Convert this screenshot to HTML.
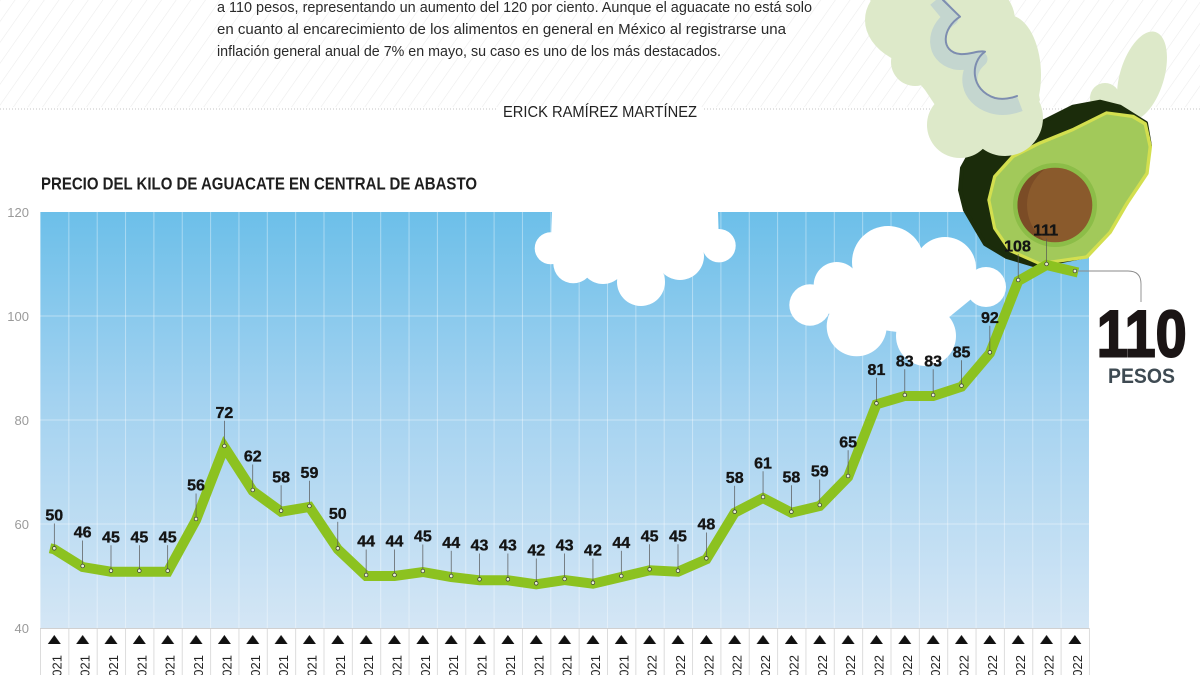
<!DOCTYPE html>
<html><head><meta charset="utf-8">
<style>
html,body{margin:0;padding:0;background:#fff;}
svg{display:block;}
text{font-family:"Liberation Sans",sans-serif;}
</style></head>
<body>
<svg width="1200" height="675" viewBox="0 0 1200 675" xmlns="http://www.w3.org/2000/svg">
<defs>
  <pattern id="hatch" patternUnits="userSpaceOnUse" width="12" height="12" patternTransform="rotate(35)">
    <line x1="0" y1="0" x2="0" y2="12" stroke="#ececec" stroke-width="1.2"/>
  </pattern>
  <linearGradient id="sky" x1="0" y1="0" x2="0" y2="1">
    <stop offset="0" stop-color="#6cbfe9"/>
    <stop offset="0.45" stop-color="#a3d2f0"/>
    <stop offset="1" stop-color="#d4e6f5"/>
  </linearGradient>
  <pattern id="vgrid" patternUnits="userSpaceOnUse" x="40" y="0" width="28.35" height="700">
    <line x1="0.5" y1="0" x2="0.5" y2="700" stroke="#ffffff" stroke-opacity="0.38" stroke-width="1"/>
  </pattern>
  <pattern id="bsep" patternUnits="userSpaceOnUse" x="40" y="0" width="28.35" height="700">
    <line x1="0.5" y1="0" x2="0.5" y2="700" stroke="#dcdcdc" stroke-width="1"/>
  </pattern>
  <pattern id="tri" patternUnits="userSpaceOnUse" x="40" y="0" width="28.35" height="700">
    <polygon points="7.8,644 14.3,635 20.8,644" fill="#111"/>
  </pattern>
  <clipPath id="wingclip">
    <ellipse cx="940" cy="20" rx="75" ry="50"/>
    <ellipse cx="1008" cy="75" rx="33" ry="60"/>
    <circle cx="915" cy="62" r="24"/>
    <circle cx="960" cy="125" r="33"/>
    <circle cx="1005" cy="118" r="38"/>
    <polygon points="870,0 1000,0 1030,50 1040,100 1020,140 975,150 945,120 925,90 900,60 895,30"/>
  </clipPath>
</defs>

<!-- top hatched band -->
<rect x="0" y="0" width="1200" height="107" fill="url(#hatch)"/>
<line x1="0" y1="109" x2="497" y2="109" stroke="#c4c4c4" stroke-width="1" stroke-dasharray="1 2"/>
<line x1="704" y1="109" x2="1200" y2="109" stroke="#c4c4c4" stroke-width="1" stroke-dasharray="1 2"/>

<!-- paragraph -->
<text x="217" y="12" font-size="15" fill="#2a2a2a" textLength="595" lengthAdjust="spacingAndGlyphs">a 110 pesos, representando un aumento del 120 por ciento. Aunque el aguacate no está solo</text>
<text x="217" y="34" font-size="15" fill="#2a2a2a" textLength="569" lengthAdjust="spacingAndGlyphs">en cuanto al encarecimiento de los alimentos en general en México al registrarse una</text>
<text x="217" y="56" font-size="15" fill="#2a2a2a" textLength="504" lengthAdjust="spacingAndGlyphs">inflación general anual de 7% en mayo, su caso es uno de los más destacados.</text>
<text x="503" y="117" font-size="16" fill="#222" textLength="194" lengthAdjust="spacingAndGlyphs">ERICK RAMÍREZ MARTÍNEZ</text>

<!-- title -->
<text x="41" y="189.5" font-size="17.5" font-weight="bold" fill="#1e1e1e" textLength="436" lengthAdjust="spacingAndGlyphs">PRECIO DEL KILO DE AGUACATE EN CENTRAL DE ABASTO</text>

<!-- y axis labels -->
<g font-size="13" fill="#9a9a9a" text-anchor="end">
  <text x="29" y="217">120</text>
  <text x="29" y="321">100</text>
  <text x="29" y="425">80</text>
  <text x="29" y="529">60</text>
  <text x="29" y="633">40</text>
</g>

<!-- chart area -->
<rect x="40" y="212" width="1049" height="416" fill="url(#sky)"/>
<rect x="40" y="212" width="1049" height="416" fill="url(#vgrid)"/>
<g stroke="#ffffff" stroke-opacity="0.4" stroke-width="1">
  <line x1="40" y1="316" x2="1089" y2="316"/>
  <line x1="40" y1="420" x2="1089" y2="420"/>
  <line x1="40" y1="524" x2="1089" y2="524"/>
</g>

<!-- bottom axis area -->
<rect x="40" y="628" width="1050" height="47" fill="url(#bsep)"/>
<line x1="40" y1="628.5" x2="1089" y2="628.5" stroke="#d0d0d0" stroke-width="1"/>
<rect x="40" y="630" width="1049" height="20" fill="url(#tri)"/>
<g font-size="13" fill="#222" text-anchor="end">
  <text transform="translate(61.3,655) rotate(-90)">2021</text>
  <text transform="translate(89.65,655) rotate(-90)">2021</text>
  <text transform="translate(118,655) rotate(-90)">2021</text>
  <text transform="translate(146.35,655) rotate(-90)">2021</text>
  <text transform="translate(174.7,655) rotate(-90)">2021</text>
  <text transform="translate(203.05,655) rotate(-90)">2021</text>
  <text transform="translate(231.4,655) rotate(-90)">2021</text>
  <text transform="translate(259.75,655) rotate(-90)">2021</text>
  <text transform="translate(288.1,655) rotate(-90)">2021</text>
  <text transform="translate(316.45,655) rotate(-90)">2021</text>
  <text transform="translate(344.8,655) rotate(-90)">2021</text>
  <text transform="translate(373.15,655) rotate(-90)">2021</text>
  <text transform="translate(401.5,655) rotate(-90)">2021</text>
  <text transform="translate(429.85,655) rotate(-90)">2021</text>
  <text transform="translate(458.2,655) rotate(-90)">2021</text>
  <text transform="translate(486.55,655) rotate(-90)">2021</text>
  <text transform="translate(514.9,655) rotate(-90)">2021</text>
  <text transform="translate(543.25,655) rotate(-90)">2021</text>
  <text transform="translate(571.6,655) rotate(-90)">2021</text>
  <text transform="translate(599.95,655) rotate(-90)">2021</text>
  <text transform="translate(628.3,655) rotate(-90)">2021</text>
  <text transform="translate(656.65,655) rotate(-90)">2022</text>
  <text transform="translate(685,655) rotate(-90)">2022</text>
  <text transform="translate(713.35,655) rotate(-90)">2022</text>
  <text transform="translate(741.7,655) rotate(-90)">2022</text>
  <text transform="translate(770.05,655) rotate(-90)">2022</text>
  <text transform="translate(798.4,655) rotate(-90)">2022</text>
  <text transform="translate(826.75,655) rotate(-90)">2022</text>
  <text transform="translate(855.1,655) rotate(-90)">2022</text>
  <text transform="translate(883.45,655) rotate(-90)">2022</text>
  <text transform="translate(911.8,655) rotate(-90)">2022</text>
  <text transform="translate(940.15,655) rotate(-90)">2022</text>
  <text transform="translate(968.5,655) rotate(-90)">2022</text>
  <text transform="translate(996.85,655) rotate(-90)">2022</text>
  <text transform="translate(1025.2,655) rotate(-90)">2022</text>
  <text transform="translate(1053.55,655) rotate(-90)">2022</text>
  <text transform="translate(1081.9,655) rotate(-90)">2022</text>
</g>

<!-- clouds -->
<g fill="#ffffff">
  <rect x="552" y="205" width="166" height="40"/>
  <polygon points="550.7,248.3 552,212 718,212 719,245.7 680,256.7 641,282 603,262 573,263"/>
  <circle cx="550.7" cy="248.3" r="16"/>
  <circle cx="573.3" cy="263.3" r="20"/>
  <circle cx="603" cy="261" r="23"/>
  <circle cx="641" cy="282" r="24"/>
  <circle cx="680" cy="256" r="24"/>
  <circle cx="719" cy="245.7" r="16.7"/>

  <polygon points="810,305 836.7,285 888,262 945,268 986,287 926,336 856.7,326.3"/>
  <circle cx="810" cy="305" r="20.7"/>
  <circle cx="836.7" cy="285" r="23"/>
  <circle cx="856.7" cy="326.3" r="30"/>
  <circle cx="888" cy="262" r="36"/>
  <circle cx="945" cy="268" r="31"/>
  <circle cx="986" cy="287" r="20"/>
  <circle cx="926" cy="336" r="30"/>
</g>

<!-- avocado: right small wing (behind) -->
<g fill="#dde9c9">
  <ellipse cx="1142" cy="76" rx="22" ry="46" transform="rotate(17 1142 76)"/>
  <circle cx="1105" cy="98" r="15"/>
</g>
<!-- dark skin -->
<polygon fill="#1b2c0b" stroke="#1b2c0b" stroke-width="4" stroke-linejoin="round"
 points="1120,106.7 1146,123 1150,146 1126.7,203 1087,256 1036.7,266 1006.7,257 985,244 976.7,230 965,210 960,190 962,168 972,150 990,138 1015,130 1040,123.3 1073,106.7 1100,101.7"/>
<!-- flesh rim -->
<polygon fill="#d3df4f" stroke="#d3df4f" stroke-width="4" stroke-linejoin="round"
 points="989.3,200 995,228 1010,250 1040,263.3 1086.7,256.7 1110,232 1126.7,203.3 1146.7,173.3 1150,146.7 1145,124 1133,116.7 1106.7,113.3 1073,130 1040,143.3 1013,156.7 995,176.7"/>
<polygon fill="#a2c95a" stroke="#a2c95a" stroke-width="3" stroke-linejoin="round"
 points="992,200 997.5,227 1012,248 1040,260.5 1085,254 1107.5,230.5 1124,202 1144,172 1147,147 1142.5,126 1131.5,119.5 1107,116 1074,132.5 1041,146 1015,159 997.5,178"/>
<circle cx="1055" cy="205" r="42" fill="#8cbd48"/>
<circle cx="1055" cy="205" r="37.3" fill="#8a5a2c"/>
<path d="M1045,169 A37.3,37.3 0 0 0 1045,241 A45,45 0 0 1 1045,169 Z" fill="#7b4c26"/>

<!-- big wing (front) -->
<g clip-path="url(#wingclip)">
  <rect x="860" y="0" width="200" height="170" fill="#dde9c9"/>
  <path d="M936,0 L951,18 C933,30 932,56 955,62 C966,64 974,59 980,59 C964,72 966,98 992,106 C1002,109 1012,107 1020,104"
        fill="none" stroke="#c4d6cf" stroke-width="15" stroke-linejoin="round"/>
  <path d="M943,0 L960,16.7 C942,28 940,52 960,54 C970,55 978,50 985,51.7 C970,62 970,90 995,98 C1003,100 1012,98 1017,96"
        fill="none" stroke="#7d8db0" stroke-width="2" stroke-linejoin="round" stroke-linecap="round"/>
</g>

<!-- data line -->
<polyline fill="none" stroke="#8cc220" stroke-width="10" stroke-linejoin="miter" stroke-miterlimit="3"
 points="50,548.3 54.3,549.3 82.65,567 111,571.7 139.35,571.7 167.7,571.7 196.05,520 224.4,447 252.75,491 281.1,511.7 309.45,507 337.8,549.3 366.15,576 394.5,576 422.85,572 451.2,577 479.55,580.3 507.9,580.3 536.25,584.3 564.6,580 592.95,583.7 621.3,577 649.65,570.3 678,571.7 706.35,559.3 734.7,512.7 763.05,498 791.4,512.7 819.75,506 848.1,477 876.45,404.3 904.8,396 933.15,396 961.5,386.7 989.85,353.3 1018.2,281 1046.55,265 1078,272.5"/>

<!-- leaders -->
<g stroke="#555" stroke-width="0.7">
  <line x1="54.3" y1="523.5" x2="54.3" y2="546.5"/>
  <line x1="82.65" y1="540.5" x2="82.65" y2="564"/>
  <line x1="111" y1="545.2" x2="111" y2="569"/>
  <line x1="139.35" y1="545.2" x2="139.35" y2="569"/>
  <line x1="167.7" y1="545.2" x2="167.7" y2="569"/>
  <line x1="196.05" y1="493.5" x2="196.05" y2="517"/>
  <line x1="224.4" y1="420.8" x2="224.4" y2="444"/>
  <line x1="252.75" y1="464.5" x2="252.75" y2="488"/>
  <line x1="281.1" y1="485.2" x2="281.1" y2="509"/>
  <line x1="309.45" y1="480.8" x2="309.45" y2="504"/>
  <line x1="337.8" y1="521.8" x2="337.8" y2="546.5"/>
  <line x1="366.15" y1="549.5" x2="366.15" y2="573"/>
  <line x1="394.5" y1="549.5" x2="394.5" y2="573"/>
  <line x1="422.85" y1="544.5" x2="422.85" y2="569"/>
  <line x1="451.2" y1="550.8" x2="451.2" y2="574"/>
  <line x1="479.55" y1="553.5" x2="479.55" y2="577.5"/>
  <line x1="507.9" y1="553.5" x2="507.9" y2="577.5"/>
  <line x1="536.25" y1="558.5" x2="536.25" y2="581.5"/>
  <line x1="564.6" y1="553.5" x2="564.6" y2="577"/>
  <line x1="592.95" y1="558.5" x2="592.95" y2="581"/>
  <line x1="621.3" y1="550.8" x2="621.3" y2="574"/>
  <line x1="649.65" y1="544.2" x2="649.65" y2="567.5"/>
  <line x1="678" y1="544.2" x2="678" y2="569"/>
  <line x1="706.35" y1="532.5" x2="706.35" y2="556.5"/>
  <line x1="734.7" y1="485.8" x2="734.7" y2="510"/>
  <line x1="763.05" y1="471.2" x2="763.05" y2="495"/>
  <line x1="791.4" y1="485.2" x2="791.4" y2="510"/>
  <line x1="819.75" y1="479.5" x2="819.75" y2="503"/>
  <line x1="848.1" y1="450.2" x2="848.1" y2="474"/>
  <line x1="876.45" y1="377.8" x2="876.45" y2="401.5"/>
  <line x1="904.8" y1="369.2" x2="904.8" y2="393"/>
  <line x1="933.15" y1="369.2" x2="933.15" y2="393"/>
  <line x1="961.5" y1="360.2" x2="961.5" y2="384"/>
  <line x1="989.85" y1="325.8" x2="989.85" y2="350.5"/>
  <line x1="1018.2" y1="254.2" x2="1018.2" y2="278"/>
  <line x1="1046.55" y1="238.5" x2="1046.55" y2="262"/>
</g>
<!-- 110 connector -->
<path d="M1074.9,271 H1128 Q1141,271 1141,284 V302" fill="none" stroke="#8a8a8a" stroke-width="0.9"/>

<!-- markers -->
<g fill="#e9f1d3" stroke="#333" stroke-width="0.7">
  <circle cx="54.3" cy="548.3" r="1.8"/>
  <circle cx="82.65" cy="566" r="1.8"/>
  <circle cx="111" cy="570.7" r="1.8"/>
  <circle cx="139.35" cy="570.7" r="1.8"/>
  <circle cx="167.7" cy="570.7" r="1.8"/>
  <circle cx="196.05" cy="519" r="1.8"/>
  <circle cx="224.4" cy="446" r="1.8"/>
  <circle cx="252.75" cy="490" r="1.8"/>
  <circle cx="281.1" cy="510.7" r="1.8"/>
  <circle cx="309.45" cy="506" r="1.8"/>
  <circle cx="337.8" cy="548.3" r="1.8"/>
  <circle cx="366.15" cy="575" r="1.8"/>
  <circle cx="394.5" cy="575" r="1.8"/>
  <circle cx="422.85" cy="571" r="1.8"/>
  <circle cx="451.2" cy="576" r="1.8"/>
  <circle cx="479.55" cy="579.3" r="1.8"/>
  <circle cx="507.9" cy="579.3" r="1.8"/>
  <circle cx="536.25" cy="583.3" r="1.8"/>
  <circle cx="564.6" cy="579" r="1.8"/>
  <circle cx="592.95" cy="582.7" r="1.8"/>
  <circle cx="621.3" cy="576" r="1.8"/>
  <circle cx="649.65" cy="569.3" r="1.8"/>
  <circle cx="678" cy="570.7" r="1.8"/>
  <circle cx="706.35" cy="558.3" r="1.8"/>
  <circle cx="734.7" cy="511.7" r="1.8"/>
  <circle cx="763.05" cy="497" r="1.8"/>
  <circle cx="791.4" cy="511.7" r="1.8"/>
  <circle cx="819.75" cy="505" r="1.8"/>
  <circle cx="848.1" cy="476" r="1.8"/>
  <circle cx="876.45" cy="403.3" r="1.8"/>
  <circle cx="904.8" cy="395" r="1.8"/>
  <circle cx="933.15" cy="395" r="1.8"/>
  <circle cx="961.5" cy="385.7" r="1.8"/>
  <circle cx="989.85" cy="352.3" r="1.8"/>
  <circle cx="1018.2" cy="280" r="1.8"/>
  <circle cx="1046.55" cy="264" r="1.8"/>
  <circle cx="1074.9" cy="271" r="1.8"/>
</g>

<!-- value labels -->
<g font-size="16" font-weight="bold" fill="#141414" stroke="#141414" stroke-width="0.35" text-anchor="middle">
  <text x="54.3" y="520.7">50</text>
  <text x="82.65" y="537.7">46</text>
  <text x="111" y="542.4">45</text>
  <text x="139.35" y="542.4">45</text>
  <text x="167.7" y="542.4">45</text>
  <text x="196.05" y="490.7">56</text>
  <text x="224.4" y="418">72</text>
  <text x="252.75" y="461.7">62</text>
  <text x="281.1" y="482.4">58</text>
  <text x="309.45" y="478">59</text>
  <text x="337.8" y="519">50</text>
  <text x="366.15" y="546.7">44</text>
  <text x="394.5" y="546.7">44</text>
  <text x="422.85" y="541.7">45</text>
  <text x="451.2" y="548">44</text>
  <text x="479.55" y="550.7">43</text>
  <text x="507.9" y="550.7">43</text>
  <text x="536.25" y="555.7">42</text>
  <text x="564.6" y="550.7">43</text>
  <text x="592.95" y="555.7">42</text>
  <text x="621.3" y="548">44</text>
  <text x="649.65" y="541.4">45</text>
  <text x="678" y="541.4">45</text>
  <text x="706.35" y="529.7">48</text>
  <text x="734.7" y="483">58</text>
  <text x="763.05" y="468.4">61</text>
  <text x="791.4" y="482.4">58</text>
  <text x="819.75" y="476.7">59</text>
  <text x="848.1" y="447.4">65</text>
  <text x="876.45" y="375">81</text>
  <text x="904.8" y="366.4">83</text>
  <text x="933.15" y="366.4">83</text>
  <text x="961.5" y="357.4">85</text>
  <text x="989.85" y="323">92</text>
  <text x="1017.5" y="251.4">108</text>
  <text x="1045.7" y="235.7">111</text>
</g>

<!-- 110 PESOS -->
<text x="1096.7" y="356.7" font-size="66" font-weight="bold" fill="#1b1515" stroke="#1b1515" stroke-width="2" textLength="90" lengthAdjust="spacingAndGlyphs">110</text>
<text x="1108" y="383" font-size="21" font-weight="bold" fill="#3e4a52" textLength="67" lengthAdjust="spacingAndGlyphs">PESOS</text>
</svg>
</body></html>
